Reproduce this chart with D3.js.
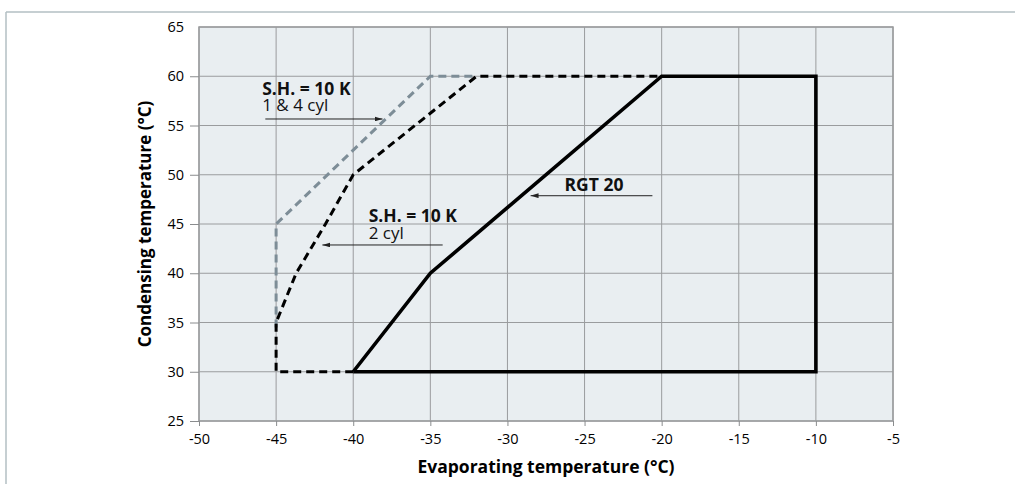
<!DOCTYPE html>
<html>
<head>
<meta charset="utf-8">
<style>
body { margin:0; background:#fff; }
text { font-family: "Open Sans", "Noto Sans", sans-serif; }
</style>
</head>
<body>
<div id="chart"></div>
<script src="https://d3js.org/d3.v7.min.js"></script>
<script>

// operating envelope data (evaporating °C, condensing °C)
var xTicks = [-50, -45, -40, -35, -30, -25, -20, -15, -10, -5];
var yTicks = [25, 30, 35, 40, 45, 50, 55, 60, 65];
var rgt20 = [[-40,30],[-35,40],[-20,60],[-10,60],[-10,30],[-40,30]];
var cyl2  = [[-40,30],[-45,30],[-45,35],[-43.7,40],[-41.8,45],[-40,50],[-32,60],[-20,60]];
var cyl14 = [[-45,34.5],[-45,45],[-35,60],[-32,60]];

// labels: [x, y, bold line, second line]
var labels = [
  [-45.9, 58.1, "S.H. = 10 K", "1 & 4 cyl"],
  [-39.0, 45.2, "S.H. = 10 K", "2 cyl"],
  [-26.3, 48.4, "RGT 20", null]
];
// arrows: [x from, x to, y]
var arrows = [
  [-45.7, -38.1, 55.66],
  [-34.2, -42.0, 42.87],
  [-20.6, -28.5, 47.87]
];

var W = 1015, H = 484;
var svg = d3.select("#chart").append("svg")
    .attr("width", W)
    .attr("height", H);

// page frame
svg.append("line").attr("x1", 6).attr("x2", W).attr("y1", 12).attr("y2", 12)
   .style("stroke", "#b3bfc3").style("stroke-width", 1.5);
svg.append("line").attr("x1", 6).attr("x2", 6).attr("y1", 12).attr("y2", H)
   .style("stroke", "#b3bfc3").style("stroke-width", 1.5);

var x = d3.scaleLinear().domain([-50, -5]).range([199, 893]);
var y = d3.scaleLinear().domain([25, 65]).range([421, 27]);

// plot background
svg.append("rect")
   .attr("x", x(-50)).attr("y", y(65))
   .attr("width", x(-5) - x(-50)).attr("height", y(25) - y(65))
   .style("fill", "#e9eef1");

// grid
svg.append("g").selectAll("line").data(xTicks).enter().append("line")
   .attr("x1", d => x(d)).attr("x2", d => x(d))
   .attr("y1", y(65)).attr("y2", y(25))
   .style("stroke", "#9a9c9e").style("stroke-width", 1);
svg.append("g").selectAll("line").data(yTicks).enter().append("line")
   .attr("x1", x(-50)).attr("x2", x(-5))
   .attr("y1", d => y(d)).attr("y2", d => y(d))
   .style("stroke", "#9a9c9e").style("stroke-width", 1);

svg.append("rect")
   .attr("x", x(-50)).attr("y", y(65))
   .attr("width", x(-5) - x(-50)).attr("height", y(25) - y(65))
   .style("fill", "none").style("stroke", "#9a9c9e").style("stroke-width", 1.5);

// axes
var xAxis = svg.append("g")
   .attr("transform", "translate(0," + y(25) + ")")
   .call(d3.axisBottom(x).tickValues(xTicks).tickSize(5).tickPadding(8).tickSizeOuter(0)
        .tickFormat(d => String(d)));
var yAxis = svg.append("g")
   .attr("transform", "translate(" + x(-50) + ",0)")
   .call(d3.axisLeft(y).tickValues(yTicks).tickSize(9).tickPadding(6).tickSizeOuter(0)
        .tickFormat(d => String(d)));
[xAxis, yAxis].forEach(function (a) {
  a.select(".domain").remove();
  a.selectAll(".tick line").attr("stroke", "#8a8c8e");
  a.selectAll(".tick text")
   .style("font-size", "14.5px")
   .style("font-family", "'Open Sans', sans-serif")
   .style("fill", "#000");
});
yAxis.selectAll(".tick").filter(d => d === 65).select("line").remove();

// envelopes
var line = d3.line().x(d => x(d[0])).y(d => y(d[1]));
svg.append("path").attr("d", line(cyl14))
   .style("fill", "none").style("stroke", "#7d8d97")
   .style("stroke-width", 3).style("stroke-dasharray", "8,5");
svg.append("path").attr("d", line(cyl2))
   .style("fill", "none").style("stroke", "#000")
   .style("stroke-width", 3).style("stroke-dasharray", "8,5");
svg.append("path").attr("d", line(rgt20))
   .style("fill", "none").style("stroke", "#000")
   .style("stroke-width", 3.6).style("stroke-linejoin", "miter");

// arrows
svg.append("defs").append("marker")
   .attr("id", "head")
   .attr("viewBox", "0 0 10 6")
   .attr("refX", 10).attr("refY", 3)
   .attr("markerWidth", 8).attr("markerHeight", 5)
   .attr("markerUnits", "userSpaceOnUse")
   .attr("orient", "auto")
   .append("path").attr("d", "M0,0 L10,3 L0,6 Z").style("fill", "#222");

svg.append("g").selectAll("line").data(arrows).enter().append("line")
   .attr("x1", d => x(d[0])).attr("x2", d => x(d[1]))
   .attr("y1", d => y(d[2])).attr("y2", d => y(d[2]))
   .style("stroke", "#222").style("stroke-width", 1)
   .attr("marker-end", "url(#head)");

// annotation text
var lab = svg.append("g").selectAll("text").data(labels).enter().append("text")
   .attr("x", d => x(d[0])).attr("y", d => y(d[1]))
   .style("fill", "#111");
lab.append("tspan")
   .style("font-size", "17.5px").style("font-weight", "bold")
   .text(d => d[2]);
lab.filter(d => d[3]).append("tspan")
   .attr("x", d => x(d[0])).attr("dy", 16.5)
   .style("font-size", "17px")
   .text(d => d[3]);

// axis titles
svg.append("text")
   .attr("x", (x(-50) + x(-5)) / 2).attr("y", 473)
   .attr("text-anchor", "middle")
   .style("font-size", "17.5px").style("font-weight", "bold")
   .text("Evaporating temperature (°C)");
svg.append("text")
   .attr("transform", "translate(151," + (y(25) + y(65)) / 2 + ") rotate(-90)")
   .attr("text-anchor", "middle")
   .style("font-size", "17px").style("font-weight", "bold")
   .text("Condensing temperature (°C)");

</script>
</body>
</html>
